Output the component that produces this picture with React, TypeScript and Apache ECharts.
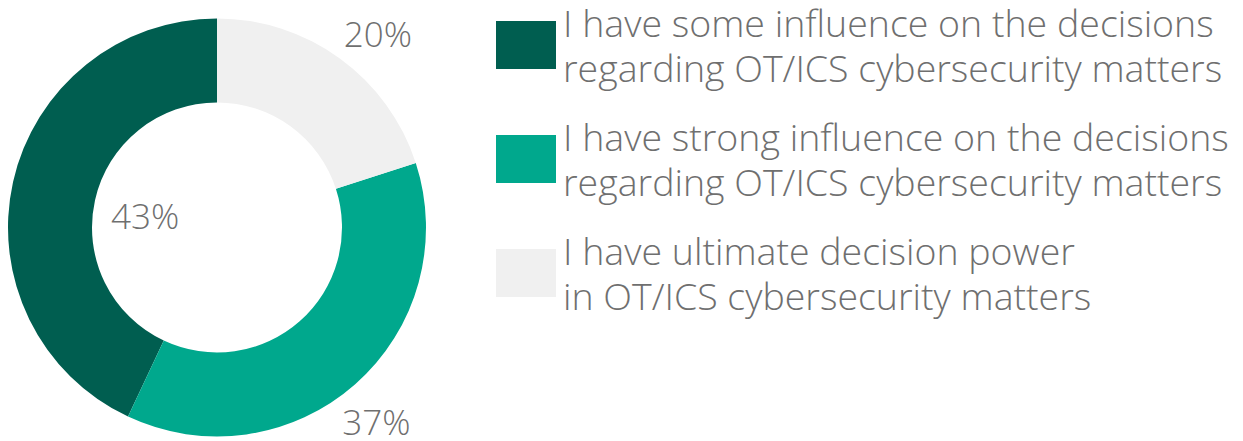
import React, { useEffect, useRef } from "react";
import * as echarts from "echarts";

const categories = [
  "I have some influence on the decisions regarding OT/ICS cybersecurity matters",
  "I have strong influence on the decisions regarding OT/ICS cybersecurity matters",
  "I have ultimate decision power in OT/ICS cybersecurity matters",
];
const legendLines = [
  ["I have some influence on the decisions", "regarding OT/ICS cybersecurity matters"],
  ["I have strong influence on the decisions", "regarding OT/ICS cybersecurity matters"],
  ["I have ultimate decision power", "in OT/ICS cybersecurity matters"],
];
const values = [43, 37, 20];
const colors = ["#005e50", "#00a88d", "#f0f0f0"];
const labelOffsets = [
  [94, 25],
  [47, 66],
  [61, -56],
];

const FONT = "'Open Sans', 'Noto Sans', sans-serif";
const TEXT_COLOR = "#6f6f6f";

export default function App() {
  const ref = useRef<HTMLDivElement>(null);
  useEffect(() => {
    if (!ref.current) return;
    const chart = echarts.init(ref.current, undefined, { renderer: "svg" });
    chart.setOption({
      animation: false,
      legend: {
        orient: "vertical",
        left: 496,
        top: 0,
        padding: 0,
        itemWidth: 60,
        itemHeight: 48,
        itemGap: 24,
        icon: "rect",
        selectedMode: false,
        data: categories,
        formatter: (name: string) => legendLines[categories.indexOf(name)].join("\n"),
        textStyle: {
          fontFamily: FONT,
          fontWeight: 300,
          fontSize: 37.5,
          lineHeight: 45,
          color: TEXT_COLOR,
          padding: [0, 0, 0, 2],
        },
      },
      series: [
        {
          type: "pie",
          center: [217, 227.5],
          radius: [125, 209],
          startAngle: 90,
          clockwise: false,
          avoidLabelOverlap: false,
          emphasis: { disabled: true },
          labelLine: { show: false },
          data: categories.map((name, i) => ({
            name,
            value: values[i],
            itemStyle: { color: colors[i] },
            label: { offset: labelOffsets[i] },
          })),
          label: {
            show: true,
            position: "inside",
            formatter: "{c}%",
            fontFamily: FONT,
            fontWeight: 300,
            fontSize: 35,
            color: TEXT_COLOR,
          },
        },
      ],
    });
    return () => chart.dispose();
  }, []);
  return (
    <div
      ref={ref}
      style={{ position: "absolute", left: 0, top: 0, width: 1243, height: 441, background: "#fff" }}
    />
  );
}
